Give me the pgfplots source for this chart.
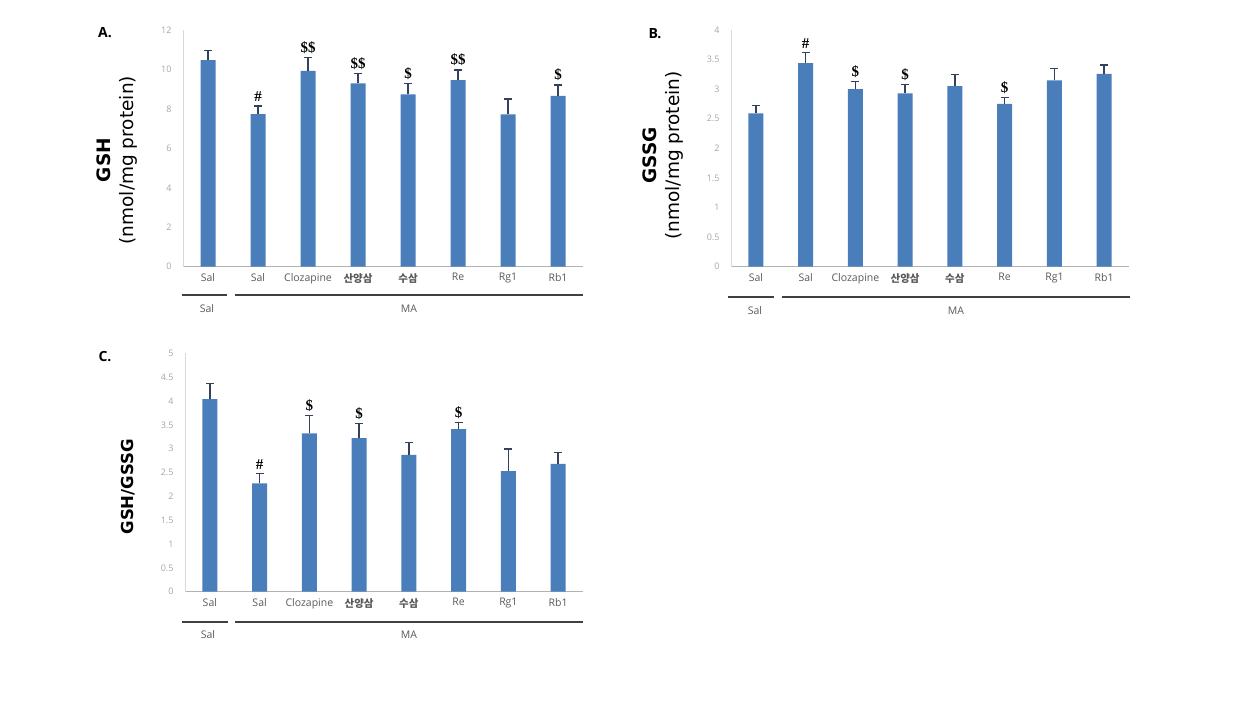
\documentclass[border=0pt]{standalone}
\usepackage{pgfplots}
\pgfplotsset{compat=1.18}
\usepackage{fontspec}
\setmainfont{Open Sans}
\newfontfamily\lab{DejaVu Sans}
\newfontfamily\kr{Noto Sans CJK KR}
\newfontfamily\mk{Liberation Serif}
\definecolor{barc}{HTML}{4A7EBB}
\definecolor{errc}{HTML}{33415C}
\definecolor{ytc}{HTML}{A6A6A6}
\definecolor{xtc}{HTML}{595959}
\definecolor{grl}{HTML}{404040}
\pgfplotsset{
  panel/.style={
    scale only axis,
    anchor=south west,
    xmin=-0.5, xmax=7.5, ymin=0,
    axis x line*=bottom, axis y line*=left,
    x axis line style={draw=black!30, line width=0.8pt, -},
    y axis line style={draw=black!15, line width=0.8pt, -},
    xtick={0,...,7},
    xticklabels={Sal,Sal,Clozapine,{\kr\bfseries 산양삼},{\kr\bfseries 수삼},Re,Rg1,Rb1},
    major tick length=0pt,
    tick style={draw=none},
    xticklabel style={font=\fontsize{10.5}{12}\selectfont, text=xtc, yshift=-3pt},
    yticklabel style={font=\fontsize{9}{10}\selectfont, text=ytc, xshift=-8pt},
    /pgf/number format/assume math mode=true,
    clip=false,
  },
  barplot/.style={
    ybar, bar width=15pt, bar shift=0pt, fill=barc, draw=none,
    error bars/.cd, y dir=plus, y explicit,
    error bar style={line width=1.3pt, color=errc},
    error mark options={rotate=90, mark size=4pt, line width=1.3pt, color=errc},
  },
  markplot/.style={
    draw=none, mark=none, nodes near coords, point meta=explicit symbolic,
    nodes near coords style={anchor=south, font=\mk\bfseries\fontsize{15}{15}\selectfont, inner sep=1pt, yshift=3pt, text=black},
  },
}
\begin{document}
\begin{tikzpicture}
\path[use as bounding box] (0,0) rectangle (1236pt,702pt);
% Panel A
\begin{axis}[panel, at={(183pt,435.3pt)}, width=400pt, height=236.7pt, ymax=12,
  ytick={0,2,...,12},
  ylabel={\bfseries GSH\\[1pt](nmol/mg protein)},
  ylabel style={at={(axis description cs:-0.165,0.45)}, anchor=center, align=center, font=\lab\fontsize{18.5}{22}\selectfont, text=black}]
\addplot[barplot] coordinates {
 (0,10.47) +- (0,0.5)
 (1,7.74) +- (0,0.4)
 (2,9.93) +- (0,0.67)
 (3,9.29) +- (0,0.51)
 (4,8.73) +- (0,0.56)
 (5,9.46) +- (0,0.51)
 (6,7.72) +- (0,0.78)
 (7,8.66) +- (0,0.55)
};
\addplot[markplot] coordinates {
 (1,8.14) [\#]
 (2,10.6) [\$\$]
 (3,9.8) [\$\$]
 (4,9.29) [\$]
 (5,9.97) [\$\$]
 (7,9.21) [\$]
};
\end{axis}
% Panel B
\begin{axis}[panel, at={(731pt,435.3pt)}, width=398pt, height=236.7pt, ymax=4,
  ytick={0,0.5,...,4},
  ylabel={\bfseries GSSG\\[1pt](nmol/mg protein)},
  ylabel style={at={(axis description cs:-0.17,0.47)}, anchor=center, align=center, font=\lab\fontsize{18.5}{22}\selectfont, text=black}]
\addplot[barplot] coordinates {
 (0,2.59) +- (0,0.14)
 (1,3.44) +- (0,0.18)
 (2,3.00) +- (0,0.13)
 (3,2.93) +- (0,0.15)
 (4,3.05) +- (0,0.2)
 (5,2.75) +- (0,0.11)
 (6,3.15) +- (0,0.2)
 (7,3.26) +- (0,0.15)
};
\addplot[markplot] coordinates {
 (1,3.62) [\#]
 (2,3.13) [\$]
 (3,3.08) [\$]
 (5,2.86) [\$]
};
\end{axis}
% Panel C
\begin{axis}[panel, at={(185pt,110.3pt)}, width=398pt, height=238.4pt, ymax=5,
  ytick={0,0.5,...,5},
  ylabel={\bfseries GSH/GSSG},
  ylabel style={at={(axis description cs:-0.143,0.44)}, anchor=center, font=\lab\fontsize{16.5}{20}\selectfont, text=black}]
\addplot[barplot] coordinates {
 (0,4.04) +- (0,0.32)
 (1,2.27) +- (0,0.21)
 (2,3.32) +- (0,0.37)
 (3,3.22) +- (0,0.31)
 (4,2.87) +- (0,0.26)
 (5,3.41) +- (0,0.14)
 (6,2.53) +- (0,0.46)
 (7,2.68) +- (0,0.24)
};
\addplot[markplot] coordinates {
 (1,2.48) [\#]
 (2,3.69) [\$]
 (3,3.53) [\$]
 (5,3.55) [\$]
};
\end{axis}
% panel letters
\node[font=\bfseries\fontsize{14}{14}\selectfont] at (105pt,669pt) {A.};
\node[font=\bfseries\fontsize{14}{14}\selectfont] at (655pt,668pt) {B.};
\node[font=\bfseries\fontsize{14}{14}\selectfont] at (105pt,345pt) {C.};
% group lines and labels
\begin{scope}[line width=1.8pt, draw=grl]
\draw (182pt,407pt) -- (227pt,407pt);
\draw (235pt,407pt) -- (583pt,407pt);
\draw (728pt,405pt) -- (774pt,405pt);
\draw (782pt,405pt) -- (1130pt,405pt);
\draw (182pt,80.3pt) -- (228pt,80.3pt);
\draw (235pt,80.3pt) -- (583pt,80.3pt);
\end{scope}
\begin{scope}[every node/.style={font=\fontsize{10.5}{12}\selectfont, text=xtc}]
\node at (207pt,393pt) {Sal};
\node at (409pt,393pt) {MA};
\node at (755pt,391pt) {Sal};
\node at (956pt,391pt) {MA};
\node at (208pt,67pt) {Sal};
\node at (409pt,67pt) {MA};
\end{scope}
\end{tikzpicture}
\end{document}
